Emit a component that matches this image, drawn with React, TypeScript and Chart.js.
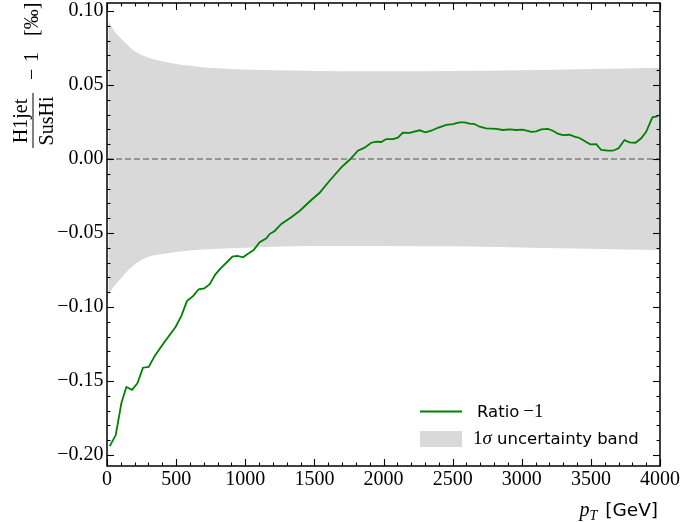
import React, { useEffect, useRef } from 'react';
import { Chart, registerables } from 'chart.js';

Chart.register(...registerables);

// ---------- data ----------
const pT = [
  20, 63, 104, 140, 181, 220, 260, 302, 345, 417, 497, 538, 578, 622, 663, 704, 743, 784, 827, 871,
  907, 943, 984, 1025, 1061, 1104, 1153, 1176, 1213, 1261, 1333, 1393, 1478, 1538, 1610, 1695, 1755,
  1815, 1863, 1912, 1948, 1984, 2020, 2068, 2104, 2140, 2189, 2261, 2304, 2345, 2393, 2454, 2502,
  2550, 2586, 2623, 2659, 2695, 2743, 2815, 2863, 2912, 2960, 3008, 3069, 3105, 3141, 3189, 3225,
  3261, 3297, 3346, 3382, 3418, 3454, 3495, 3539, 3575, 3623, 3659, 3700, 3743, 3779, 3823, 3864,
  3900, 3945, 3985,
];
const ratioMinusOne = [
  -0.194, -0.1865, -0.165, -0.154, -0.156, -0.1516, -0.141, -0.1405, -0.133, -0.1234, -0.1133, -0.106,
  -0.096, -0.0926, -0.088, -0.0874, -0.0845, -0.0779, -0.0734, -0.0694, -0.066, -0.0655, -0.0664,
  -0.0637, -0.0615, -0.0562, -0.0536, -0.0507, -0.0486, -0.0439, -0.0394, -0.0351, -0.0277, -0.0228,
  -0.0147, -0.0056, -0.0005, 0.0056, 0.0077, 0.011, 0.0118, 0.0115, 0.0135, 0.0135, 0.0144, 0.0178,
  0.0176, 0.0194, 0.018, 0.0191, 0.0211, 0.023, 0.0236, 0.0248, 0.0248, 0.0239, 0.0236, 0.0218,
  0.0207, 0.0203, 0.0196, 0.02, 0.0196, 0.0198, 0.0184, 0.0187, 0.02, 0.0203, 0.0191, 0.0171, 0.0162,
  0.0164, 0.0151, 0.0142, 0.0122, 0.0099, 0.0101, 0.0061, 0.0056, 0.0056, 0.0072, 0.0128, 0.0113,
  0.011, 0.014, 0.0184, 0.0282, 0.0289,
];
const bandPT = [10, 50, 100, 150, 200, 300, 400, 500, 600, 700, 800, 1000, 1200, 1500, 2000, 2500, 3000, 3500, 4000];
const bandUpper = [
  0.093, 0.0868, 0.0815, 0.077, 0.0728, 0.0684, 0.066, 0.0642, 0.063, 0.0619, 0.0613, 0.0605, 0.0599,
  0.0595, 0.0593, 0.0595, 0.06, 0.0608, 0.0617,
];
const bandLower = [
  -0.092, -0.0862, -0.0808, -0.0755, -0.0712, -0.066, -0.0642, -0.0628, -0.0618, -0.0612, -0.0606,
  -0.0599, -0.0593, -0.0588, -0.0587, -0.059, -0.0597, -0.0606, -0.0615,
];
const xTickValues = [0, 500, 1000, 1500, 2000, 2500, 3000, 3500, 4000];
const yTickValues = [-0.2, -0.15, -0.1, -0.05, 0, 0.05, 0.1];

const X_MIN = 0;
const X_MAX = 4000;
const Y_MIN = -0.2074;
const Y_MAX = 0.1054;

const LINE_COLOR = '#008000';
const BAND_COLOR = '#d9d9d9';
const ZERO_COLOR = '#808080';
const SERIF = '"Liberation Serif", serif';
const SANS = '"DejaVu Sans", sans-serif';

const fmtY = (v: number) => {
  const r = Math.round(v * 100) / 100;
  if (Math.abs(r) < 1e-9) return '0.00';
  return (r < 0 ? '\u2212' : '') + Math.abs(r).toFixed(2);
};

const decorPlugin = {
  id: 'decor',
  afterDraw(chart: any) {
    const { ctx, chartArea: a, scales } = chart;
    const xs = scales.x;
    const ys = scales.y;
    ctx.save();
    const seg = (x1: number, y1: number, x2: number, y2: number) => {
      ctx.beginPath();
      ctx.moveTo(x1, y1);
      ctx.lineTo(x2, y2);
      ctx.stroke();
    };
    // inside ticks on all four sides
    ctx.strokeStyle = '#000';
    ctx.lineWidth = 1.1;
    for (let i = 0; i <= 40; i++) {
      const v = i * 100;
      const len = i % 5 === 0 ? 7 : 3.5;
      const px = Math.round(xs.getPixelForValue(v)) + 0.5;
      seg(px, a.bottom, px, a.bottom - len);
      seg(px, a.top, px, a.top + len);
    }
    for (let i = -20; i <= 10; i++) {
      const v = i / 100;
      const len = i % 5 === 0 ? 7 : 3.5;
      const py = Math.round(ys.getPixelForValue(v)) + 0.5;
      seg(a.left, py, a.left + len, py);
      seg(a.right, py, a.right - len, py);
    }
    // frame
    ctx.lineWidth = 1.5;
    ctx.strokeRect(a.left, a.top, a.right - a.left, a.bottom - a.top);

    // legend
    ctx.strokeStyle = LINE_COLOR;
    ctx.lineWidth = 1.8;
    seg(420, 411.5, 462, 411.5);
    ctx.fillStyle = BAND_COLOR;
    ctx.fillRect(420, 431, 42, 16);
    ctx.fillStyle = '#000';
    ctx.textBaseline = 'alphabetic';
    ctx.textAlign = 'left';
    ctx.font = `16.5px ${SANS}`;
    ctx.fillText('Ratio', 477, 417);
    const w = ctx.measureText('Ratio').width + 4;
    ctx.font = `19px ${SERIF}`;
    ctx.fillText('\u22121', 477 + w, 417);
    ctx.fillText('1', 473, 444);
    let x = 473 + ctx.measureText('1').width;
    ctx.font = `italic 19px ${SERIF}`;
    ctx.fillText('\u03c3', x, 444);
    x += ctx.measureText('\u03c3').width;
    ctx.font = `16.5px ${SANS}`;
    ctx.fillText(' uncertainty band', x, 444);

    // x axis title
    ctx.textAlign = 'right';
    ctx.font = `18.5px ${SANS}`;
    ctx.fillText('[GeV]', 658, 516);
    const gevW = ctx.measureText('[GeV]').width;
    let rx = 658 - gevW - 8;
    ctx.font = `italic 14px ${SERIF}`;
    ctx.fillText('T', rx, 520);
    rx -= ctx.measureText('T').width;
    ctx.font = `italic 20px ${SERIF}`;
    ctx.fillText('p', rx, 516);

    // y axis title (rotated)
    const rot = (text: string, sx: number, sy: number, font: string, align: CanvasTextAlign) => {
      ctx.save();
      ctx.translate(sx, sy);
      ctx.rotate(-Math.PI / 2);
      ctx.font = font;
      ctx.textAlign = align;
      ctx.fillText(text, 0, 0);
      ctx.restore();
    };
    ctx.strokeStyle = '#000';
    ctx.lineWidth = 1;
    seg(33, 93, 33, 148);
    rot('H1jet', 27, 121, `20px ${SERIF}`, 'center');
    rot('SusHi', 53, 121, `20px ${SERIF}`, 'center');
    rot('\u2212', 38, 80, `20px ${SERIF}`, 'left');
    rot('1', 38, 62, `20px ${SERIF}`, 'left');
    rot('[\u2030]', 38, 36, `20px ${SERIF}`, 'left');
    ctx.restore();
  },
};

export default function App() {
  const ref = useRef<HTMLCanvasElement>(null);
  useEffect(() => {
    document.body.style.margin = '0';
    const canvas = ref.current;
    if (!canvas) return;
    const tickFont = { family: SERIF, size: 20 };
    const chart = new Chart(canvas, {
      type: 'line',
      data: {
        datasets: [
          {
            label: 'Ratio \u22121',
            data: pT.map((p, i) => ({ x: p, y: ratioMinusOne[i] })),
            borderColor: LINE_COLOR,
            borderWidth: 1.8,
            pointRadius: 0,
            fill: false,
            tension: 0,
            order: 1,
          },
          {
            label: 'zero',
            data: [
              { x: X_MIN, y: 0 },
              { x: X_MAX, y: 0 },
            ],
            borderColor: ZERO_COLOR,
            borderWidth: 1.6,
            borderDash: [6, 3],
            pointRadius: 0,
            fill: false,
            order: 2,
          },
          {
            label: '1\u03c3 uncertainty band',
            data: bandPT.map((p, i) => ({ x: p, y: bandUpper[i] })),
            borderWidth: 0,
            borderColor: 'rgba(0,0,0,0)',
            backgroundColor: BAND_COLOR,
            pointRadius: 0,
            fill: '+1',
            cubicInterpolationMode: 'monotone',
            order: 3,
          },
          {
            label: 'band lower',
            data: bandPT.map((p, i) => ({ x: p, y: bandLower[i] })),
            borderWidth: 0,
            borderColor: 'rgba(0,0,0,0)',
            pointRadius: 0,
            fill: false,
            cubicInterpolationMode: 'monotone',
            order: 4,
          },
        ],
      },
      options: {
        responsive: false,
        animation: false,
        layout: { padding: { left: 0, top: 3, right: 21, bottom: 0 } },
        plugins: { legend: { display: false }, tooltip: { enabled: false }, title: { display: false } },
        scales: {
          x: {
            type: 'linear',
            min: X_MIN,
            max: X_MAX,
            grid: { display: false, drawTicks: false, tickLength: 0 },
            border: { display: false },
            ticks: {
              font: tickFont,
              color: '#000',
              padding: 2,
              maxRotation: 0,
              autoSkip: false,
              callback: (v: any) => String(v),
            },
            afterBuildTicks: (s: any) => {
              s.ticks = xTickValues.map((v) => ({ value: v }));
            },
            afterFit: (s: any) => {
              s.height = 56;
              s.paddingLeft = 0;
              s.paddingRight = 0;
            },
          },
          y: {
            type: 'linear',
            min: Y_MIN,
            max: Y_MAX,
            grid: { display: false, drawTicks: false, tickLength: 0 },
            border: { display: false },
            ticks: {
              font: tickFont,
              color: '#000',
              padding: 3.5,
              autoSkip: false,
              callback: (v: any) => fmtY(Number(v)),
            },
            afterBuildTicks: (s: any) => {
              s.ticks = yTickValues.map((v) => ({ value: v }));
            },
            afterFit: (s: any) => {
              s.width = 107;
              s.paddingTop = 0;
              s.paddingBottom = 0;
            },
          },
        },
      } as any,
      plugins: [decorPlugin],
    });
    return () => chart.destroy();
  }, []);
  return (
    <div style={{ width: 681, height: 522 }}>
      <canvas ref={ref} width={681} height={522} style={{ display: 'block' }} />
    </div>
  );
}
